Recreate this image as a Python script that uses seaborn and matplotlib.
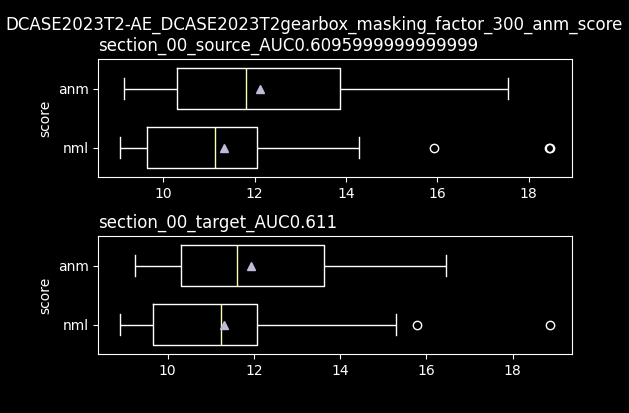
import pandas as pd
import matplotlib
matplotlib.use('Agg')
import matplotlib.pyplot as plt
import seaborn as sns

# scores (box stats: whiskers, quartiles, median, mean, fliers)
source_anm = [9.14, 9.5, 10.31, 10.6, 11.82, 12.3, 13.86, 14.0, 17.55]
source_nml = [9.05, 9.07, 9.1, 9.15, 9.2, 9.25, 9.3, 9.4, 9.65,
              9.7, 9.8, 9.9, 10.0, 10.2, 10.5, 10.9, 11.13,
              11.18, 11.25, 11.35, 11.45, 11.55, 11.65, 11.82, 12.06,
              12.1, 12.2, 12.4, 12.8, 14.28, 15.92, 18.44, 18.47]
target_anm = [9.25, 9.6, 10.30, 10.8, 11.61, 11.95, 13.62, 13.78, 16.46]
target_nml = [8.89, 8.95, 9.1, 9.3, 9.5, 9.67, 9.7, 9.75, 9.8, 9.9, 11.24,
              11.26, 11.28, 11.3, 11.32, 12.08, 12.14, 12.17, 15.30, 15.78, 18.87]

labels = ['anm', 'nml']
suptitle = 'DCASE2023T2-AE_DCASE2023T2gearbox_masking_factor_300_anm_score'
titles = ['section_00_source_AUC0.6095999999999999', 'section_00_target_AUC0.611']


def make_df(anm, nml):
    return pd.DataFrame({
        'score': anm + nml,
        'label': ['anm'] * len(anm) + ['nml'] * len(nml),
    })


plt.style.use('dark_background')

fig = plt.figure(figsize=(6.29, 4.13), dpi=100)
ax1 = fig.add_axes([0.1563, 0.5707, 0.7526, 0.2857])
ax2 = fig.add_axes([0.1563, 0.1421, 0.7526, 0.2864])

frames = [make_df(source_anm, source_nml), make_df(target_anm, target_nml)]

for ax, df, title in zip([ax1, ax2], frames, titles):
    sns.boxplot(data=df, x='score', y='label', order=labels, ax=ax,
                fill=False, color='white', width=0.7, linewidth=1,
                showmeans=True,
                medianprops={'color': '#feffb3'},
                meanprops={'marker': '^', 'markerfacecolor': '#bfbbd9',
                           'markeredgecolor': '#bfbbd9', 'markersize': 6},
                flierprops={'marker': 'o', 'markerfacecolor': 'none',
                            'markeredgecolor': 'white', 'markersize': 6})
    ax.set_title(title, loc='left', fontsize=12)
    ax.set_xlabel('')
    ax.set_ylabel('score')

fig.suptitle(suptitle, fontsize=12, y=0.962, va='top')
fig.savefig('out.png', dpi=100)
